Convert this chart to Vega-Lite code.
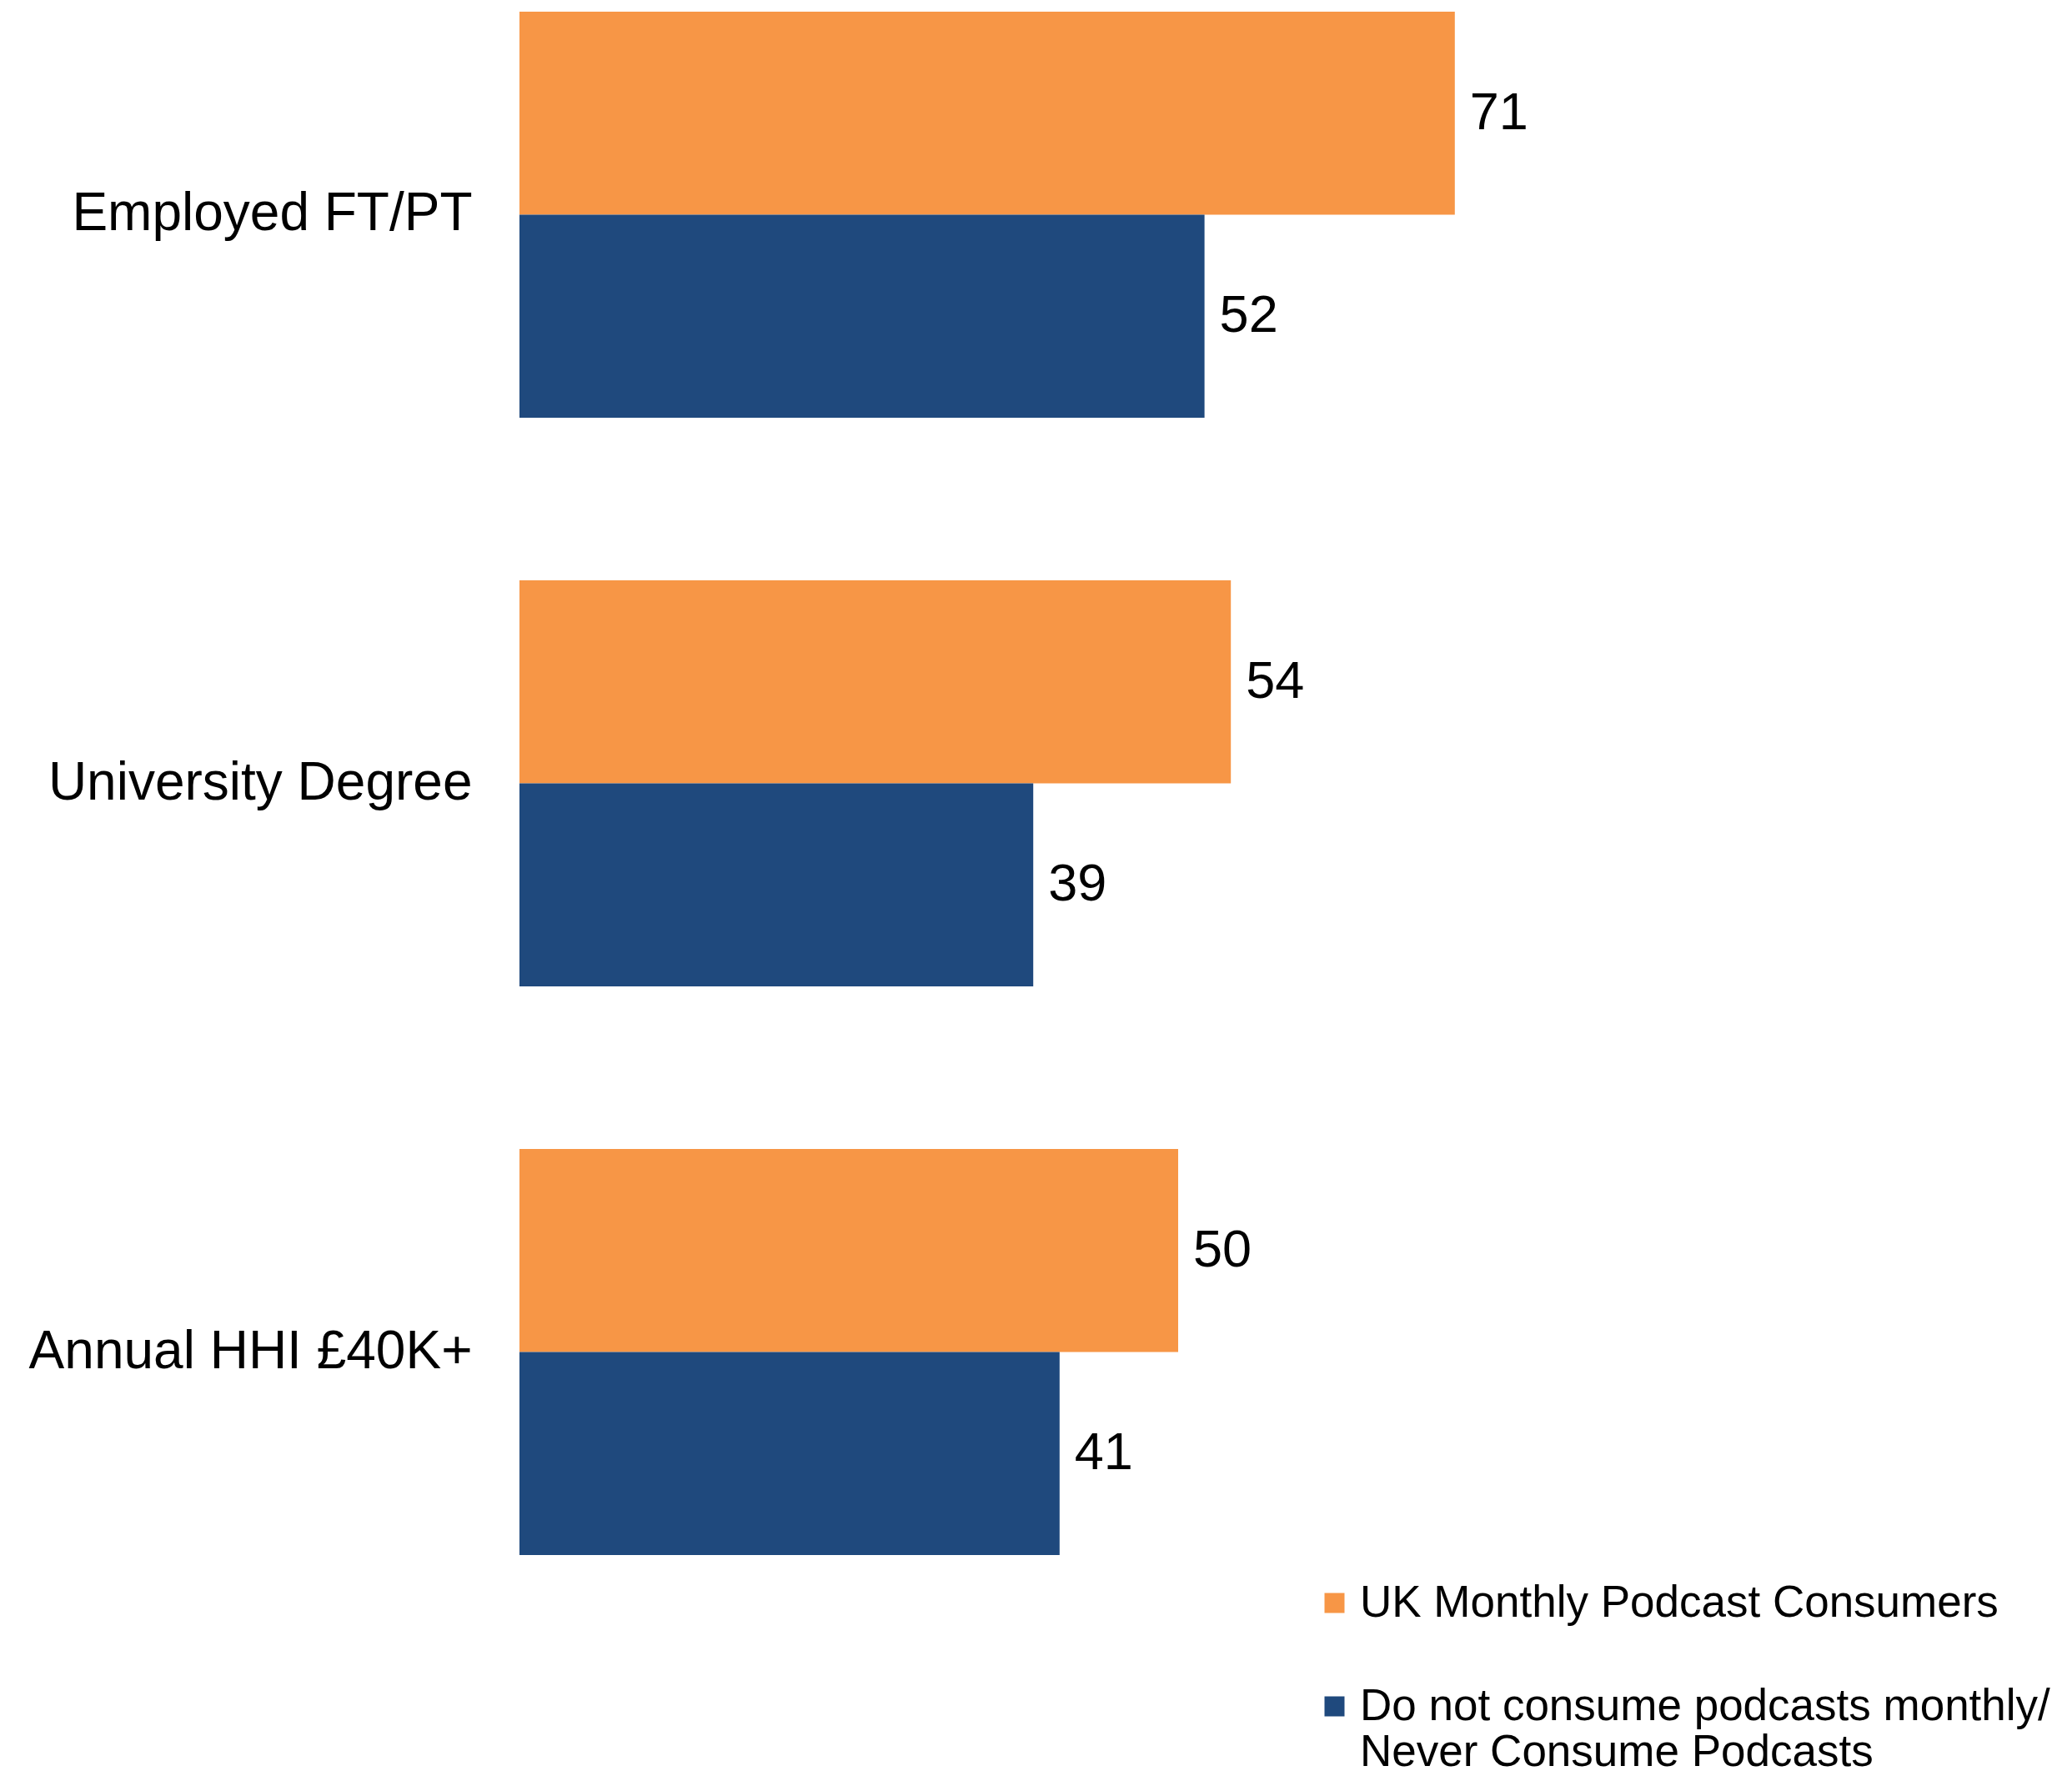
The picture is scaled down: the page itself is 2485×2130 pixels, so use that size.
{
  "$schema": "https://vega.github.io/schema/vega-lite/v6.json",
  "autosize": {"type": "none"},
  "padding": {"left": 623, "top": 14, "right": 282, "bottom": 265},
  "width": 1580,
  "height": 1851,
  "background": "white",
  "config": {"view": {"stroke": null}, "font": "Liberation Sans"},
  "data": {"values": [
    {"category": "Employed FT/PT", "series": "UK Monthly Podcast Consumers", "value": 71},
    {"category": "Employed FT/PT", "series": "Do not consume podcasts monthly/ Never Consume Podcasts", "value": 52},
    {"category": "University Degree", "series": "UK Monthly Podcast Consumers", "value": 54},
    {"category": "University Degree", "series": "Do not consume podcasts monthly/ Never Consume Podcasts", "value": 39},
    {"category": "Annual HHI £40K+", "series": "UK Monthly Podcast Consumers", "value": 50},
    {"category": "Annual HHI £40K+", "series": "Do not consume podcasts monthly/ Never Consume Podcasts", "value": 41}
  ]},
  "encoding": {
    "y": {"field": "category", "type": "nominal", "sort": ["Employed FT/PT", "University Degree", "Annual HHI £40K+"],
      "scale": {"paddingInner": 0.286, "paddingOuter": 0},
      "axis": {"title": null, "domain": false, "ticks": false, "tickSize": 0, "labelPadding": 57, "labelFontSize": 64, "labelColor": "black", "labelFont": "Liberation Sans", "labelLimit": 1000}},
    "yOffset": {"field": "series", "type": "nominal", "sort": ["UK Monthly Podcast Consumers", "Do not consume podcasts monthly/ Never Consume Podcasts"], "scale": {"paddingInner": 0, "paddingOuter": 0}},
    "x": {"field": "value", "type": "quantitative", "scale": {"domain": [0, 100]}, "axis": null}
  },
  "layer": [
    {"mark": {"type": "bar"},
     "encoding": {
       "color": {"field": "series", "type": "nominal",
         "sort": ["UK Monthly Podcast Consumers", "Do not consume podcasts monthly/ Never Consume Podcasts"],
         "scale": {"domain": ["UK Monthly Podcast Consumers", "Do not consume podcasts monthly/ Never Consume Podcasts"], "range": ["#F79646", "#1F497D"]},
         "legend": {"title": null, "orient": "none", "legendX": 951, "legendY": 1882, "padding": 0,
           "symbolType": "square", "symbolSize": 576, "symbolStrokeWidth": 0, "symbolOffset": 0,
           "labelFontSize": 53, "labelFont": "Liberation Sans", "labelColor": "black", "labelLimit": 1000, "labelOffset": 4,
           "rowPadding": 70,
           "labelExpr": "datum.label == 'UK Monthly Podcast Consumers' ? datum.label : ['Do not consume podcasts monthly/', 'Never Consume Podcasts']"}}
     }},
    {"mark": {"type": "text", "align": "left", "baseline": "middle", "dx": 18, "fontSize": 63, "font": "Liberation Sans", "color": "black"},
     "encoding": {"text": {"field": "value", "type": "quantitative"}}}
  ]
}
